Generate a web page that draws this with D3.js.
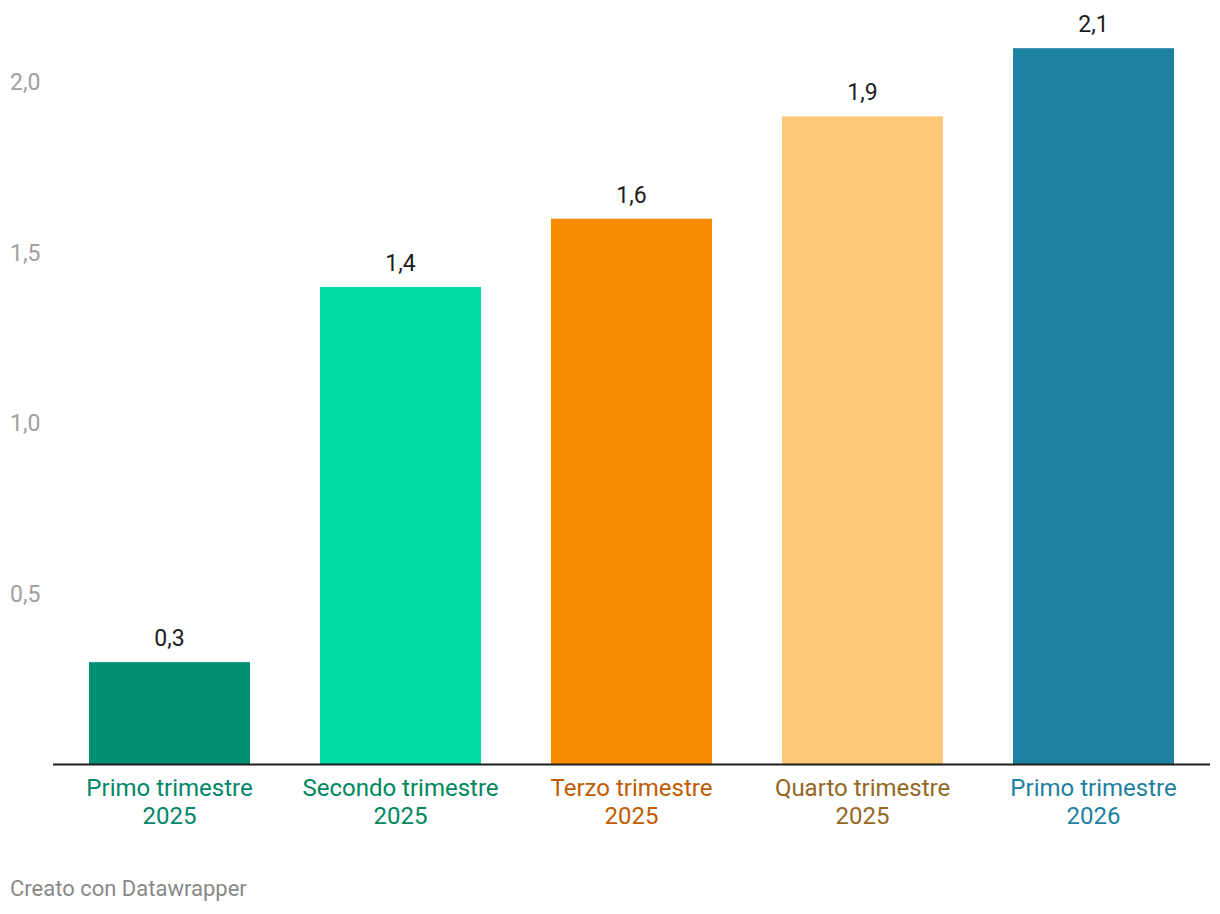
<!DOCTYPE html>
<html>
<head>
<meta charset="utf-8">
<script src="https://cdn.jsdelivr.net/npm/d3@7"></script>
<style>
  html, body { margin:0; padding:0; background:#fff; }
  svg text { font-family: Roboto, "Noto Sans", sans-serif; }
</style>
</head>
<body>
<svg id="stage" width="1220" height="914"></svg>
<script>
// ---- dati ----
const categories = [
  ["Primo trimestre", "2025"],
  ["Secondo trimestre", "2025"],
  ["Terzo trimestre", "2025"],
  ["Quarto trimestre", "2025"],
  ["Primo trimestre", "2026"]
];
const values = [0.3, 1.4, 1.6, 1.9, 2.1];
const yTicks = [0.5, 1.0, 1.5, 2.0];
const barColors   = ["#008f72", "#00dca6", "#f98b00", "#fdc978", "#1e81a2"];
const labelColors = ["#00866a", "#00875e", "#c05c00", "#94681f", "#1e7fa0"];

const svg = d3.select("#stage");
const fmt = v => d3.format(".1f")(v).replace(".", ",");

const baseY = 764.5;
const y = d3.scaleLinear().domain([0, 2]).range([baseY, 82.3]);
const x = d3.scaleBand()
  .domain(d3.range(values.length))
  .range([54, 1209])
  .paddingInner(0.303)
  .paddingOuter(0.1515);

// ---- asse y (solo etichette) ----
const yAxis = d3.axisLeft(y).tickValues(yTicks).tickFormat(fmt).tickSize(0);
const gy = svg.append("g").attr("transform", "translate(10,0)").call(yAxis);
gy.select(".domain").remove();
gy.selectAll("text")
  .attr("x", 0)
  .attr("text-anchor", "start")
  .attr("fill", "#a0a0a0")
  .style("font-size", "23px");

// ---- barre ----
svg.append("g").selectAll("rect")
  .data(values)
  .join("rect")
  .attr("x", (d, i) => x(i))
  .attr("y", d => y(d))
  .attr("width", x.bandwidth())
  .attr("height", d => baseY - y(d))
  .attr("fill", (d, i) => barColors[i]);

// ---- valori sopra le barre ----
svg.append("g").selectAll("text")
  .data(values)
  .join("text")
  .attr("x", (d, i) => x(i) + x.bandwidth() / 2)
  .attr("y", d => y(d) - 16)
  .attr("text-anchor", "middle")
  .attr("fill", "#1d1d1d")
  .style("font-size", "23px")
  .text(fmt);

// ---- linea di base ----
svg.append("line")
  .attr("x1", 53).attr("x2", 1210)
  .attr("y1", baseY).attr("y2", baseY)
  .attr("stroke", "#1d1d1d")
  .attr("stroke-width", 2);

// ---- etichette categorie ----
const xl = svg.append("g").selectAll("text")
  .data(categories)
  .join("text")
  .attr("text-anchor", "middle")
  .attr("fill", (d, i) => labelColors[i])
  .style("font-size", "24px");
xl.each(function(d, i) {
  const t = d3.select(this);
  const cx = x(i) + x.bandwidth() / 2;
  d.forEach((line, j) => {
    t.append("tspan").attr("x", cx).attr("y", 796 + j * 28).text(line);
  });
});

// ---- nota ----
svg.append("text")
  .attr("x", 10).attr("y", 896)
  .attr("fill", "#888")
  .style("font-size", "22px")
  .text("Creato con Datawrapper");
</script>
</body>
</html>
